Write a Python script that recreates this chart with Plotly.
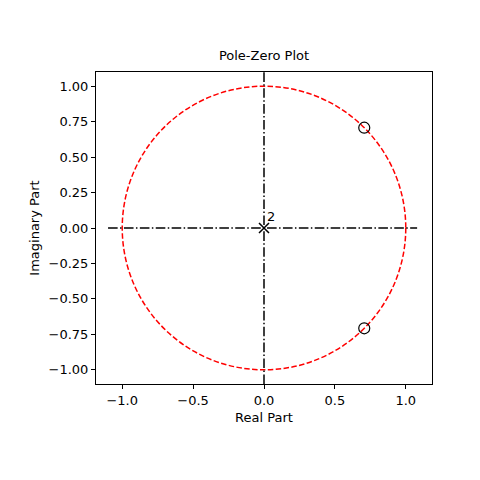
import plotly.graph_objects as go

# zeros and poles of the system
zeros_re = [0.7071, 0.7071]
zeros_im = [0.7071, -0.7071]
poles_re = [0.0]
poles_im = [0.0]
pole_count = ["2"]

# axis reference lines
hline_x = [-1.1, 1.08]
hline_y = [0.0, 0.0]
vline_x = [0.0, 0.0]
vline_y = [-1.1, 1.1]

xticks = [-1.0, -0.5, 0.0, 0.5, 1.0]
yticks = [-1.0, -0.75, -0.5, -0.25, 0.0, 0.25, 0.5, 0.75, 1.0]

font = "DejaVu Sans"
dashdot = "9.6px,2.4px,1.5px,2.4px"

fig = go.Figure()

# unit circle
fig.add_shape(type="circle", xref="x", yref="y", x0=-1, y0=-1, x1=1, y1=1,
              line=dict(color="red", width=1.5, dash="5.5px,2.4px"), layer="below")

fig.add_trace(go.Scatter(x=hline_x, y=hline_y, mode="lines",
                         line=dict(color="black", width=1.5, dash=dashdot)))
fig.add_trace(go.Scatter(x=vline_x, y=vline_y, mode="lines",
                         line=dict(color="black", width=1.5, dash=dashdot)))

fig.add_trace(go.Scatter(x=zeros_re, y=zeros_im, mode="markers",
                         marker=dict(symbol="circle-open", size=11, color="black",
                                     line=dict(width=1.2))))
fig.add_trace(go.Scatter(x=poles_re, y=poles_im, mode="markers",
                         marker=dict(symbol="x-thin-open", size=10, color="black",
                                     line=dict(width=1.5, color="black"))))

for xr, yi, n in zip(poles_re, poles_im, pole_count):
    fig.add_annotation(x=xr, y=yi, text=n, showarrow=False, xanchor="left",
                       yanchor="bottom", xshift=1, yshift=2,
                       font=dict(family=font, size=13, color="black"))

axis_common = dict(showgrid=False, zeroline=False, showline=True, linecolor="black",
                   linewidth=1, mirror=True, ticks="outside", ticklen=4,
                   tickcolor="black", automargin=False,
                   tickfont=dict(family=font, size=13, color="black"))

# page body has an 8px margin, so the figure is nudged up/left
fig.update_layout(
    width=480, height=480,
    margin=dict(l=88, r=56, t=64, b=104),
    plot_bgcolor="white", paper_bgcolor="white",
    showlegend=False,
    title=dict(text="Pole-Zero Plot", x=256 / 480, xanchor="center", y=1 - 52 / 480,
               yanchor="bottom", automargin=False,
               font=dict(family=font, size=13, color="black")),
    xaxis=dict(range=[-1.185, 1.185], tickvals=xticks,
               ticktext=[f"{v:.1f}".replace("-", "\u2212") for v in xticks],
               title=dict(text="Real Part", font=dict(family=font, size=13, color="black"),
                          standoff=6),
               **axis_common),
    yaxis=dict(range=[-1.1, 1.1], tickvals=yticks,
               ticktext=[f"{v:.2f}".replace("-", "\u2212") for v in yticks],
               title=dict(text="Imaginary Part", font=dict(family=font, size=13, color="black"),
                          standoff=6),
               **axis_common),
)

fig.write_html("out.html")
